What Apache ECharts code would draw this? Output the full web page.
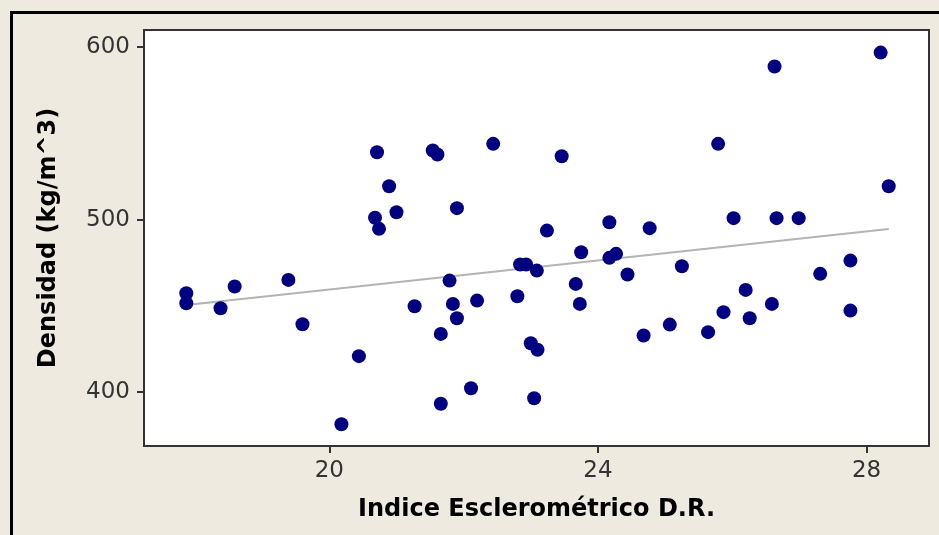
<!DOCTYPE html>
<html><head><meta charset="utf-8">
<script src="https://cdn.jsdelivr.net/npm/echarts@6/dist/echarts.min.js"></script>
<style>html,body{margin:0;padding:0;background:#EEEAE0}#c{width:939px;height:535px}</style>
</head><body><div id="c"></div>
<script>
const xValues = [17.87,17.87,18.38,18.59,19.39,19.60,20.18,20.44,20.68,20.71,20.74,20.89,21.00,21.27,21.54,21.61,21.66,21.66,21.79,21.84,21.90,21.90,22.11,22.20,22.44,22.80,22.84,22.93,23.00,23.05,23.09,23.10,23.24,23.46,23.67,23.73,23.75,24.17,24.17,24.27,24.44,24.68,24.77,25.07,25.25,25.64,25.79,25.87,26.02,26.20,26.26,26.59,26.63,26.66,26.99,27.31,27.76,27.76,28.21,28.33];
const yValues = [457.3,451.5,448.6,461.2,465.0,439.3,381.3,420.8,501.0,539.0,494.6,519.3,504.2,449.7,540.0,537.7,433.7,393.2,464.6,451.1,506.6,442.8,402.2,453.0,543.9,455.5,473.9,473.9,428.3,396.4,470.4,424.5,493.6,536.7,462.7,451.1,481.0,498.4,477.8,480.1,468.1,432.8,495.0,439.1,472.9,434.7,543.9,446.3,500.8,459.2,442.8,451.1,588.7,500.8,500.8,468.5,476.2,447.2,596.8,519.3];
const xTicks = [20,24,28];
const yTicks = [400,500,600];
const xTitle = 'Indice Esclerométrico D.R.';
const yTitle = 'Densidad (kg/m^3)';

const pts = xValues.map((x,i)=>[x,yValues[i]]);
const n = xValues.length;
const mx = xValues.reduce((a,b)=>a+b,0)/n, my = yValues.reduce((a,b)=>a+b,0)/n;
let sxy=0, sxx=0;
for(let i=0;i<n;i++){sxy+=(xValues[i]-mx)*(yValues[i]-my);sxx+=(xValues[i]-mx)**2;}
const slope = sxy/sxx, icpt = my - slope*mx;
const xmin = Math.min(...xValues), xmax = Math.max(...xValues);
const fit = [[xmin, icpt+slope*xmin],[xmax, icpt+slope*xmax]];

const chart = echarts.init(document.getElementById('c'));
const tickFont = {fontFamily:'DejaVu Sans', fontSize:23, color:'#333'};
const titleFont = {fontFamily:'DejaVu Sans', fontWeight:'bold', fontSize:24, color:'#000'};
chart.setOption({
  backgroundColor:'#EEEAE0',
  animation:false,
  grid:{left:144, top:30, right:10, bottom:89, show:true, backgroundColor:'#fff', borderColor:'#333', borderWidth:2},
  graphic:[{type:'rect', shape:{x:11.5, y:12.5, width:1000, height:600}, style:{fill:'none', stroke:'#000', lineWidth:3}, silent:true}],
  xAxis:{type:'value', min:17.24, max:28.93,
    name:xTitle, nameLocation:'middle', nameGap:52,
    nameTextStyle:titleFont,
    axisLine:{show:true, onZero:false, lineStyle:{color:'#333', width:2}},
    axisTick:{show:true, inside:false, length:7, customValues:xTicks, lineStyle:{color:'#333', width:2}},
    axisLabel:Object.assign({margin:14, customValues:xTicks}, tickFont),
    splitLine:{show:false}},
  yAxis:{type:'value', min:368.7, max:609.9,
    name:yTitle, nameLocation:'middle', nameGap:83, nameRotate:90,
    nameTextStyle:titleFont,
    axisLine:{show:true, onZero:false, lineStyle:{color:'#333', width:2}},
    axisTick:{show:true, inside:false, length:7, customValues:yTicks, lineStyle:{color:'#333', width:2}},
    axisLabel:Object.assign({margin:14, customValues:yTicks}, tickFont),
    splitLine:{show:false}},
  series:[
    {type:'line', data:fit, symbol:'none', lineStyle:{color:'#b4b4b4', width:2}, z:1, silent:true},
    {type:'scatter', data:pts, symbol:'circle', symbolSize:14, itemStyle:{color:'#000080', opacity:1}, z:2}
  ]
});
</script></body></html>
